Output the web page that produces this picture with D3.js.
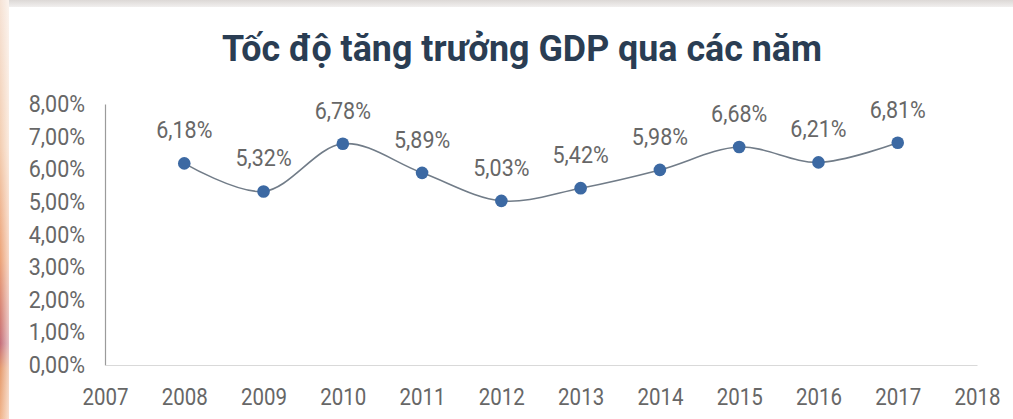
<!DOCTYPE html>
<html>
<head>
<meta charset="utf-8">
<script src="https://cdn.jsdelivr.net/npm/d3@7/dist/d3.min.js"></script>
<style>
  html, body { margin: 0; padding: 0; background: #ffffff; }
  svg { display: block; }
</style>
</head>
<body>
<svg id="chart" width="1013" height="419"></svg>
<script>
// GDP growth rate by year (%)
const years = [2008, 2009, 2010, 2011, 2012, 2013, 2014, 2015, 2016, 2017];
const growth = [6.18, 5.32, 6.78, 5.89, 5.03, 5.42, 5.98, 6.68, 6.21, 6.81];
const xTickYears = [2007, 2008, 2009, 2010, 2011, 2012, 2013, 2014, 2015, 2016, 2017, 2018];
const yTickValues = [0, 1, 2, 3, 4, 5, 6, 7, 8];
const chartTitle = "Tốc độ tăng trưởng GDP qua các năm";

const W = 1013, H = 419;
const svg = d3.select("#chart");

// Vietnamese number format: comma as decimal separator
const vn = d3.formatLocale({ decimal: ",", thousands: ".", grouping: [3], currency: ["", "₫"] });
const pct = v => vn.format(".2f")(v) + "%";

// backdrop: faint top band and warm left edge
const defs = svg.append("defs");
const edge = defs.append("linearGradient").attr("id", "edge").attr("x1", 0).attr("y1", 0).attr("x2", 0).attr("y2", 1);
[["0%", "#f6e3d6"], ["35%", "#f3cdb0"], ["62%", "#eca276"], ["76%", "#d27c72"], ["82%", "#c46d78"], ["88%", "#e59a6c"], ["100%", "#f0b48a"]]
  .forEach(([o, c]) => edge.append("stop").attr("offset", o).attr("stop-color", c));
const edgeFade = defs.append("linearGradient").attr("id", "edgefade").attr("x1", 0).attr("y1", 0).attr("x2", 1).attr("y2", 0);
edgeFade.append("stop").attr("offset", "0%").attr("stop-color", "#fff").attr("stop-opacity", 0);
edgeFade.append("stop").attr("offset", "100%").attr("stop-color", "#fff").attr("stop-opacity", 0.6);
const topBand = defs.append("linearGradient").attr("id", "topband").attr("x1", 0).attr("y1", 0).attr("x2", 0).attr("y2", 1);
topBand.append("stop").attr("offset", "0%").attr("stop-color", "#dcd8d6");
topBand.append("stop").attr("offset", "100%").attr("stop-color", "#f1efee");

svg.append("rect").attr("width", W).attr("height", H).attr("fill", "#ffffff");
svg.append("rect").attr("x", 0).attr("y", 0).attr("width", W).attr("height", 7).attr("fill", "url(#topband)");
svg.append("rect").attr("x", 0).attr("y", 0).attr("width", 9).attr("height", H).attr("fill", "url(#edge)");
svg.append("rect").attr("x", 0).attr("y", 0).attr("width", 9).attr("height", H).attr("fill", "url(#edgefade)");

// scales
const x = d3.scaleLinear().domain([2007, 2018]).range([105, 977]);
const y = d3.scaleLinear().domain([0, 8]).range([365, 104]);

// title
svg.append("text")
  .attr("transform", "translate(522,61) scale(1,1.08)")
  .attr("text-anchor", "middle")
  .attr("font-family", "Roboto, 'Noto Sans', sans-serif")
  .attr("font-weight", 700)
  .attr("font-size", 35)
  .attr("textLength", 600)
  .attr("lengthAdjust", "spacingAndGlyphs")
  .attr("fill", "#2a3d53")
  .text(chartTitle);

const labelFont = "Roboto, 'Noto Sans', sans-serif";
const labelColor = "#676767";

// y axis
const yAxis = d3.axisLeft(y).tickValues(yTickValues).tickSize(0).tickPadding(20).tickFormat(pct);
const gy = svg.append("g").attr("transform", `translate(${x(2007)},0)`).call(yAxis);
gy.select(".domain").attr("stroke", "#9b9b9b").attr("stroke-width", 1.2);
gy.selectAll("text")
  .attr("font-family", labelFont).attr("font-size", 21.5).attr("fill", labelColor)
  .attr("transform", "scale(1,1.1)");

// x axis
const xAxis = d3.axisBottom(x).tickValues(xTickYears).tickSize(0).tickPadding(19).tickFormat(d3.format("d"));
const gx = svg.append("g").attr("transform", `translate(0,${y(0)})`).call(xAxis);
gx.select(".domain").attr("stroke", "#d9d9d9").attr("stroke-width", 1.2);
gx.selectAll("text")
  .attr("font-family", labelFont).attr("font-size", 20.5).attr("fill", labelColor)
  .attr("transform", "scale(1,1.2)");

// smoothed growth line
const line = d3.line()
  .x((d, i) => x(years[i]))
  .y(d => y(d))
  .curve(d3.curveCatmullRom.alpha(0.5));
svg.append("path")
  .datum(growth)
  .attr("d", line)
  .attr("fill", "none")
  .attr("stroke", "#717c88")
  .attr("stroke-width", 1.6);

// markers
svg.append("g").selectAll("circle")
  .data(growth)
  .join("circle")
  .attr("cx", (d, i) => x(years[i]))
  .attr("cy", d => y(d))
  .attr("r", 6.3)
  .attr("fill", "#3c69a3");

// value labels
svg.append("g").selectAll("text")
  .data(growth)
  .join("text")
  .attr("transform", (d, i) => `translate(${x(years[i])},${y(d) - 25}) scale(1,1.12)`)
  .attr("text-anchor", "middle")
  .attr("font-family", labelFont)
  .attr("font-size", 21.5)
  .attr("fill", labelColor)
  .text(d => pct(d));
</script>
</body>
</html>
